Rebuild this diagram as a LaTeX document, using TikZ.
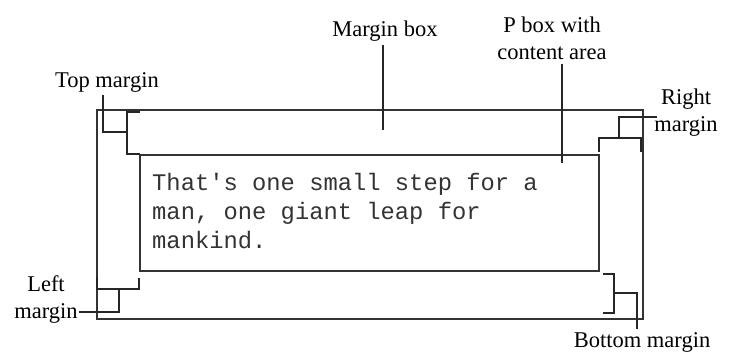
\documentclass[tikz,border=0pt]{standalone}
\usepackage{fontspec}
\setmainfont{Liberation Serif}
\newfontfamily\monofont{Liberation Mono}
\begin{document}
\begin{tikzpicture}[x=1pt,y=-1pt,
  boxline/.style={draw=black!80,line width=1.3pt},
  brk/.style={draw=black!85,line width=1.5pt},
  lead/.style={draw=black!85,line width=1.1pt},
  lbl/.style={font=\fontsize{22.5}{27}\selectfont,align=center,inner sep=0pt},
  code/.style={font=\monofont\fontsize{23.8}{29}\selectfont,anchor=base west,inner sep=0pt,text=black!80}]
\useasboundingbox (0,0) rectangle (733,354);
% boxes
\coordinate (o1) at (97,110); \coordinate (o2) at (643,319);
\coordinate (i1) at (140,155); \coordinate (i2) at (599,271);
\draw[boxline] (o1) rectangle (o2);
\draw[boxline] (i1) rectangle (i2);
% text
\node[code] (t1) at (152,190) {That's one small step for a};
\node[code] (t2) at (152,219) {man, one giant leap for};
\node[code] (t3) at (152,248) {mankind.};
% labels
\node[lbl] (mb) at (385,31) {Margin box};
\node[lbl] (pb) at (552,38) {P box with\\content area};
\node[lbl] (tm) at (107,82) {Top margin};
\node[lbl] (rm) at (686,113) {Right\\margin};
\node[lbl] (lm) at (46,299) {Left\\margin};
\node[lbl] (bm) at (642,342) {Bottom margin};
% brackets
\draw[brk] (140,112) -- (127,112) -- (127,154) -- (140,154);
\draw[brk] (599,152) -- (599,138) -- (641,138) -- (641,152);
\draw[brk] (97,277) -- (97,289) -- (139,289) -- (139,278);
\draw[brk] (603,274) -- (614,274) -- (614,313) -- (603,313);
% leaders
\coordinate (mbe) at (383,130);
\coordinate (pbe) at (562,163);
\coordinate (tmc) at (103,132); \coordinate (tme) at (127,132);
\coordinate (rmc) at (619,117); \coordinate (rme) at (619,138);
\coordinate (lmc) at (119,312); \coordinate (lme) at (119,289);
\coordinate (bmc) at (637,293); \coordinate (bme) at (614,293);
\draw[lead] (mb.south -| mbe) ++(0,4) -- (mbe);
\draw[lead] (pb.south -| pbe) ++(0,4) -- (pbe);
\draw[lead] (tm.south -| tmc) ++(0,3) -- (tmc) -- (tme);
\draw[lead] (657,117) -- (rmc) -- (rme);
\draw[lead] (lm.east |- lmc) ++(1,0) -- (lmc) -- (lme);
\draw[lead] (bm.north -| bmc) ++(0,-3) -- (bmc) -- (bme);
\end{tikzpicture}
\end{document}
